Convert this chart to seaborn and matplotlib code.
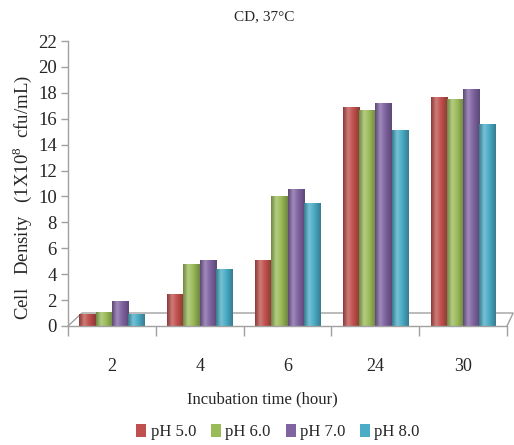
import matplotlib
matplotlib.use("Agg")
import matplotlib.pyplot as plt
import matplotlib.colors as mcolors
import seaborn as sns
import pandas as pd
import numpy as np

# ---- data ----
hours = ["2", "4", "6", "24", "30"]
ph_levels = ["pH 5.0", "pH 6.0", "pH 7.0", "pH 8.0"]
ph50 = [0.9, 2.5, 5.1, 16.9, 17.7]
ph60 = [1.1, 4.8, 10.0, 16.7, 17.5]
ph70 = [1.9, 5.1, 10.6, 17.2, 18.3]
ph80 = [0.9, 4.4, 9.5, 15.1, 15.6]
colors = ["#C0504D", "#9BBB59", "#8064A2", "#4BACC6"]

rows = []
for ph, vals in zip(ph_levels, [ph50, ph60, ph70, ph80]):
    for h, v in zip(hours, vals):
        rows.append({"hour": h, "pH": ph, "density": v})
df = pd.DataFrame(rows)

sns.set_theme(style="white")
plt.rcParams["font.family"] = ["Liberation Serif", "DejaVu Serif"]
plt.rcParams["mathtext.fontset"] = "custom"
plt.rcParams["mathtext.rm"] = "Liberation Serif"

fig = plt.figure(figsize=(5.14, 4.45), dpi=100)
ax = fig.add_axes([68/514, 1-326/445, (507-68)/514, (326-41)/445])

# 3D-style floor outline (behind the bars)
fy = 13/285
ax.plot([0, 14/439, 1.014, 1.0], [0, fy, fy, 0], transform=ax.transAxes,
        color="#A0A0A0", lw=1, clip_on=False, zorder=0.5)

sns.barplot(data=df, x="hour", y="density", hue="pH", order=hours,
            hue_order=ph_levels, palette=colors, width=0.74, ax=ax,
            saturation=1, edgecolor="none", legend=True)

ax.set_ylim(0, 22)
ax.set_xlim(-0.5, 4.5)

# cylinder-like shading over each bar
grad = np.linspace(0, 1, 64).reshape(1, -1)
for patch in list(ax.patches):
    fc = np.array(mcolors.to_rgb(patch.get_facecolor()))
    dark = fc * 0.72
    light = np.clip(fc + (1 - fc) * 0.25, 0, 1)
    cmap = mcolors.LinearSegmentedColormap.from_list(
        "cyl", [(0, dark), (0.3, light), (0.6, fc), (1, dark)])
    x0, y0 = patch.get_x(), patch.get_y()
    w, h = patch.get_width(), patch.get_height()
    im = ax.imshow(grad, extent=[x0, x0 + w, y0, y0 + h], aspect="auto",
                   cmap=cmap, zorder=patch.get_zorder() + 0.1,
                   interpolation="bilinear")
    im.set_clip_path(patch)
ax.set_ylim(0, 22)
ax.set_xlim(-0.5, 4.5)

ax.set_yticks(range(0, 23, 2))
ax.tick_params(axis="y", labelsize=13.5, length=5, width=1, color="#A0A0A0",
               direction="out", left=True, pad=3)
ax.set_xticks([-0.5, 0.5, 1.5, 2.5, 3.5, 4.5], minor=False)
ax.set_xticklabels([])
ax.set_xticks(range(5), labels=hours, minor=True)
ax.tick_params(axis="x", which="major", length=7, width=1, color="#A0A0A0",
               direction="out", bottom=True)
ax.tick_params(axis="x", which="minor", length=0, labelsize=13, pad=23)

for s in ["top", "right"]:
    ax.spines[s].set_visible(False)
for s in ["left", "bottom"]:
    ax.spines[s].set_color("#A0A0A0")
    ax.spines[s].set_linewidth(1)

ax.set_xlabel("")
ax.set_ylabel("")
fig.text(22/514, 1-198/445, "Cell   Density   (1X10$^{8}$  cfu/mL)",
         rotation=90, ha="center", va="center", fontsize=13.5)
fig.text(264/514, 1-17/445, "CD, 37°C", ha="center", va="center", fontsize=11)
fig.text(262/514, 1-399/445, "Incubation time (hour)", ha="center",
         va="center", fontsize=12)

handles, labels = ax.get_legend_handles_labels()
ax.get_legend().remove()
fig.legend(handles, labels, loc="center", bbox_to_anchor=(278/514, 1-432/445),
           ncol=4, frameon=False, fontsize=12, handlelength=0.6,
           handleheight=0.8, handletextpad=0.25, columnspacing=0.9)

fig.savefig("out.png", dpi=100)
